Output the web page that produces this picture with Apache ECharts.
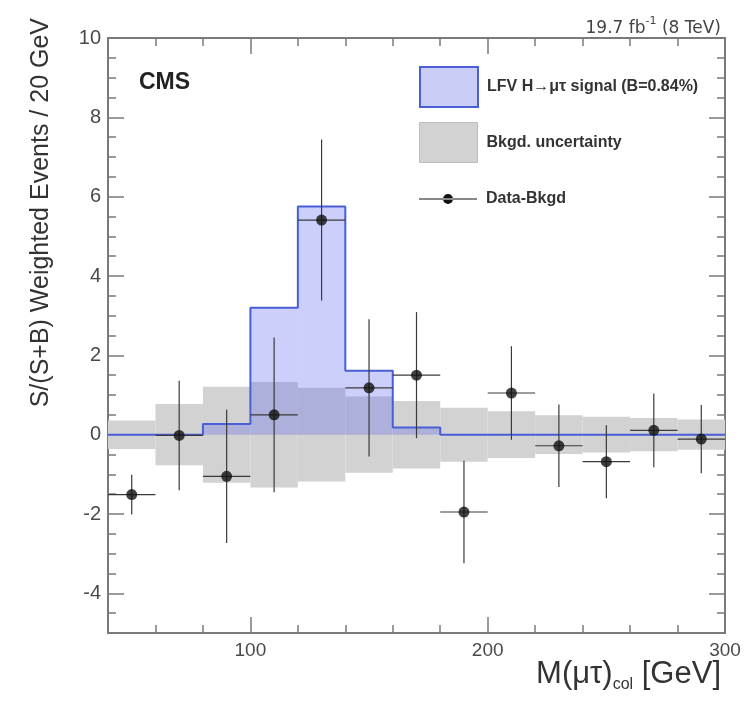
<!DOCTYPE html>
<html>
<head>
<meta charset="utf-8">
<script src="https://cdn.jsdelivr.net/npm/echarts@6/dist/echarts.min.js"></script>
<style>
  html, body { margin: 0; padding: 0; background: #fff; }
  #chart { width: 748px; height: 710px; }
</style>
</head>
<body>
<div id="chart"></div>
<script>
const FONT = 'Liberation Sans, Arial, Helvetica, sans-serif'
const BIN_HALF = 10

// bin centres, M(mu tau)_col in GeV (20 GeV bins from 40 to 300)
const binCenters = [50, 70, 90, 110, 130, 150, 170, 190, 210, 230, 250, 270, 290]
const binEdges = [40, 60, 80, 100, 120, 140, 160, 180, 200, 220, 240, 260, 280, 300]

// LFV signal histogram (B = 0.84%)
const signalValues = [0, 0, 0.27, 3.2, 5.75, 1.61, 0.18, 0, 0, 0, 0, 0, 0]

// background uncertainty (symmetric half-width around 0)
const bkgdUncertainty = [0.36, 0.77, 1.21, 1.33, 1.18, 0.96, 0.85, 0.68, 0.59, 0.49, 0.45, 0.42, 0.38]

// data minus background, with error bars
const dataValues = [-1.51, -0.02, -1.05, 0.5, 5.41, 1.18, 1.5, -1.95, 1.05, -0.28, -0.68, 0.11, -0.11]
const dataErrors = [0.5, 1.38, 1.68, 1.95, 2.03, 1.73, 1.59, 1.29, 1.18, 1.04, 0.92, 0.93, 0.86]

const xLabelValues = [100, 200, 300]
const yLabelValues = [-4, -2, 0, 2, 4, 6, 8, 10]

const chart = echarts.init(document.getElementById('chart'))

const signalStep = binEdges.map((edge, i) => [edge, signalValues[Math.min(i, signalValues.length - 1)]])

const frameColor = '#7a7a7a'
const labelStyle = { color: '#4a4a4a', fontSize: 19, fontFamily: FONT }

const baseX = (position, showLabel) => ({
  type: 'value',
  position,
  min: 40,
  max: 300,
  interval: 20,
  axisLine: { show: true, onZero: false, lineStyle: { color: frameColor, width: 2 } },
  axisTick: { show: true, inside: true, length: 8, lineStyle: { color: frameColor, width: 1.5 } },
  axisLabel: showLabel
    ? { show: true, customValues: xLabelValues, margin: 8, ...labelStyle }
    : { show: false },
  splitLine: { show: false }
})
const longX = (position) => ({
  type: 'value',
  position,
  min: 40,
  max: 300,
  axisLine: { show: false, onZero: false },
  axisTick: { show: true, inside: true, length: 16, customValues: xLabelValues, lineStyle: { color: frameColor, width: 1.5 } },
  axisLabel: { show: false },
  splitLine: { show: false }
})
const baseY = (position, showLabel) => ({
  type: 'value',
  position,
  min: -5,
  max: 10,
  interval: 0.5,
  axisLine: { show: true, onZero: false, lineStyle: { color: frameColor, width: 2 } },
  axisTick: { show: true, inside: true, length: 8, lineStyle: { color: frameColor, width: 1.5 } },
  axisLabel: showLabel
    ? { show: true, customValues: yLabelValues, margin: 7, ...labelStyle, fontSize: 20 }
    : { show: false },
  splitLine: { show: false }
})
const longY = (position) => ({
  type: 'value',
  position,
  min: -5,
  max: 10,
  axisLine: { show: false, onZero: false },
  axisTick: { show: true, inside: true, length: 16, customValues: yLabelValues, lineStyle: { color: frameColor, width: 1.5 } },
  axisLabel: { show: false },
  splitLine: { show: false }
})

const legendText = { fontSize: 16, fontWeight: 'bold', color: '#333', fontFamily: FONT, padding: [0, 0, 0, 4] }

chart.setOption({
  backgroundColor: '#fff',
  animation: false,
  grid: { left: 108, right: 23, top: 38, bottom: 77 },
  xAxis: [baseX('bottom', true), longX('bottom'), baseX('top', false), longX('top')],
  yAxis: [baseY('left', true), longY('left'), baseY('right', false), longY('right')],
  title: [
    {
      text: 'CMS',
      left: 134,
      top: 66,
      textStyle: { fontSize: 23, fontWeight: 'bold', color: '#222', fontFamily: FONT }
    },
    {
      text: '{a|19.7 fb}{s|-1}{a| (8 TeV)}',
      right: 22,
      top: 11,
      textStyle: {
        fontFamily: 'DejaVu Sans',
        fontWeight: 'normal',
        rich: {
          a: { fontSize: 17, fontWeight: 'normal', color: '#444', fontFamily: 'DejaVu Sans', lineHeight: 21, verticalAlign: 'bottom' },
          s: { fontSize: 11, fontWeight: 'normal', color: '#444', fontFamily: 'DejaVu Sans', lineHeight: 11, verticalAlign: 'top' }
        }
      }
    },
    {
      text: '{a|M(μτ)}{s|col}{a| [GeV]}',
      right: 22,
      top: 654,
      textStyle: {
        fontFamily: FONT,
        fontWeight: 'normal',
        rich: {
          a: { fontSize: 31, fontWeight: 'normal', color: '#333', fontFamily: FONT, lineHeight: 34, verticalAlign: 'top' },
          s: { fontSize: 16, fontWeight: 'normal', color: '#333', fontFamily: FONT, lineHeight: 16, verticalAlign: 'bottom' }
        }
      }
    }
  ],
  graphic: [{
    type: 'text',
    x: 41,
    y: 18,
    rotation: Math.PI / 2,
    style: {
      text: 'S/(S+B) Weighted Events / 20 GeV',
      fontSize: 25,
      fontFamily: FONT,
      fill: '#333',
      align: 'right',
      verticalAlign: 'middle'
    }
  }],
  legend: [
    {
      left: 414, top: 61, itemWidth: 58, itemHeight: 40,
      data: [{ name: 'LFV H→μτ signal (B=0.84%)', icon: 'rect', itemStyle: { color: '#cacef6', borderColor: '#4a5ed8', borderWidth: 2 } }],
      textStyle: legendText
    },
    {
      left: 414, top: 117, itemWidth: 58, itemHeight: 40,
      data: [{ name: 'Bkgd. uncertainty', icon: 'rect', itemStyle: { color: '#d2d2d2', borderColor: '#bdbdbd', borderWidth: 1 } }],
      textStyle: legendText
    },
    {
      left: 414, top: 186, itemWidth: 58, itemHeight: 12,
      data: [{ name: 'Data-Bkgd', icon: 'path://M0,5.5H58V6.5H0Z M24,6A5,5 0 1,0 34,6A5,5 0 1,0 24,6Z', itemStyle: { color: '#111' } }],
      textStyle: legendText
    }
  ],
  series: [
    {
      name: 'Bkgd. uncertainty',
      type: 'custom',
      data: binCenters.map((x, i) => [x, bkgdUncertainty[i]]),
      renderItem: (params, api) => {
        const x = api.value(0)
        const e = api.value(1)
        const p0 = api.coord([x - BIN_HALF, e])
        const p1 = api.coord([x + BIN_HALF, -e])
        return {
          type: 'rect',
          shape: { x: p0[0], y: p0[1], width: p1[0] - p0[0], height: p1[1] - p0[1] },
          style: { fill: '#d2d2d2' }
        }
      },
      z: 1
    },
    {
      name: 'LFV H→μτ signal (B=0.84%)',
      type: 'custom',
      data: binCenters.map((x, i) => [x, signalValues[i]]),
      renderItem: (params, api) => {
        const x = api.value(0)
        const v = api.value(1)
        const p0 = api.coord([x - BIN_HALF, v])
        const p1 = api.coord([x + BIN_HALF, 0])
        return {
          type: 'rect',
          shape: { x: p0[0], y: p0[1], width: p1[0] - p0[0], height: p1[1] - p0[1] },
          style: { fill: 'rgba(95, 105, 235, 0.32)' }
        }
      },
      z: 2
    },
    {
      type: 'line',
      step: 'end',
      data: signalStep,
      symbol: 'none',
      lineStyle: { color: '#4a5ed8', width: 2 },
      z: 3,
      silent: true
    },
    {
      name: 'Data-Bkgd',
      type: 'custom',
      data: binCenters.map((x, i) => [x, dataValues[i], dataErrors[i]]),
      renderItem: (params, api) => {
        const x = api.value(0)
        const y = api.value(1)
        const e = api.value(2)
        const left = api.coord([x - BIN_HALF, y])
        const right = api.coord([x + BIN_HALF, y])
        const top = api.coord([x, y + e])
        const bottom = api.coord([x, y - e])
        const stroke = { stroke: '#3a3a3a', lineWidth: 1.2 }
        return {
          type: 'group',
          children: [
            { type: 'line', shape: { x1: left[0], y1: left[1], x2: right[0], y2: right[1] }, style: stroke },
            { type: 'line', shape: { x1: top[0], y1: top[1], x2: bottom[0], y2: bottom[1] }, style: stroke }
          ]
        }
      },
      z: 4
    },
    {
      name: 'Data-Bkgd',
      type: 'scatter',
      data: binCenters.map((x, i) => [x, dataValues[i]]),
      symbol: 'circle',
      symbolSize: 11,
      itemStyle: { color: '#111' },
      z: 5
    }
  ]
})
</script>
</body>
</html>
